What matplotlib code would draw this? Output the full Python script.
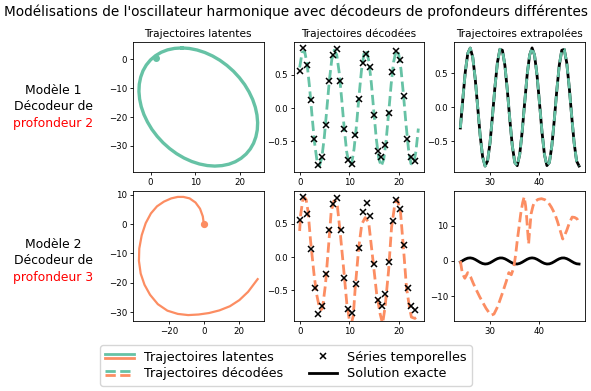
import matplotlib
matplotlib.use('Agg')
import matplotlib.pyplot as plt
from matplotlib.lines import Line2D
from matplotlib.legend_handler import HandlerBase

GREEN = '#66c2a5'
ORANGE = '#fc8d62'

# ---- data ------------------------------------------------------------------
# Model 1 latent trajectory (closed ellipse)
lat1_x = [7.0, 5.36, 3.81, 2.38, 1.10, -0.03, -0.97, -1.71, -2.23, -2.54, -2.62,
          -2.47, -2.10, -1.51, -0.70, 0.29, 1.47, 2.80, 4.27, 5.84, 7.50, 9.22,
          10.96, 12.70, 14.4, 16.04, 17.59, 19.02, 20.30, 21.43, 22.37, 23.11,
          23.63, 23.94, 24.02, 23.87, 23.5, 22.91, 22.10, 21.11, 19.93, 18.60,
          17.13, 15.56, 13.90, 12.18, 10.44, 8.70, 7.0]
lat1_y = [4.0, 3.83, 3.33, 2.48, 1.30, -0.18, -1.94, -3.94, -6.16, -8.56, -11.09,
          -13.72, -16.4, -19.08, -21.71, -24.26, -26.66, -28.9, -30.92, -32.7,
          -34.2, -35.4, -36.27, -36.81, -37.0, -36.83, -36.33, -35.48, -34.3,
          -32.82, -31.06, -29.06, -26.84, -24.44, -21.91, -19.28, -16.6, -13.92,
          -11.29, -8.74, -6.34, -4.1, -2.08, -0.3, 1.2, 2.4, 3.27, 3.81, 4.0]
lat1_start = [1.1, 0.6]

# Model 2 latent trajectory (open spiral)
lat2_x = [0.0, -0.6, -2.2, -4.8, -8.2, -11.8, -15.0, -18.8, -23.0, -27.0, -30.5,
          -33.5, -35.8, -37.2, -37.4, -36.4, -34.2, -31.0, -26.5, -21.0, -15.0,
          -9.0, -3.0, 3.0, 9.0, 15.0, 20.5, 25.5, 31.0]
lat2_y = [0.0, 2.6, 5.2, 7.3, 8.7, 9.2, 9.2, 8.7, 7.6, 6.0, 3.6, 0.3, -3.8, -8.3,
          -12.5, -16.8, -20.6, -24.0, -27.2, -29.4, -30.5, -30.9, -30.7, -30.2,
          -29.3, -27.9, -25.8, -23.0, -18.7]
lat2_start = [0.0, 0.0]

# observed time series (same for both models)
obs_t = [0, 0.75, 1.5, 2.25, 3, 3.75, 4.5, 5.25, 6, 6.75, 7.5, 8.25, 9, 9.75,
         10.5, 11.25, 12, 12.75, 13.5, 14.25, 15, 15.75, 16.5, 17.25, 18, 18.75,
         19.5, 20.25, 21, 21.75, 22.5, 23.25]
obs_y = [0.56, 0.90, 0.64, 0.12, -0.47, -0.85, -0.74, -0.26, 0.41, 0.79, 0.88,
         0.41, -0.31, -0.78, -0.84, -0.41, 0.14, 0.68, 0.81, 0.62, -0.11, -0.64,
         -0.74, -0.55, -0.08, 0.54, 0.85, 0.72, 0.18, -0.46, -0.73, -0.80]

# Model 1 decoded trajectory on the fitting window
dec1_t = [0, 0.5, 1, 1.5, 2, 2.5, 3, 3.5, 4, 4.5, 5, 5.5, 6, 6.5, 7, 7.5, 8, 8.5,
          9, 9.5, 10, 10.5, 11, 11.5, 12, 12.5, 13, 13.5, 14, 14.5, 15, 15.5, 16,
          16.5, 17, 17.5, 18, 18.5, 19, 19.5, 20, 20.5, 21, 21.5, 22, 22.5, 23,
          23.5, 24]
dec1_y = [0.606, 0.831, 0.853, 0.665, 0.315, -0.112, -0.512, -0.787, -0.869,
          -0.738, -0.427, -0.011, 0.408, 0.726, 0.867, 0.796, 0.529, 0.134,
          -0.295, -0.651, -0.849, -0.840, -0.614, -0.254, 0.177, 0.564, 0.812,
          0.862, 0.701, 0.368, -0.055, -0.463, -0.760, -0.870, -0.768, -0.477,
          -0.069, 0.354, 0.691, 0.860, 0.817, 0.574, 0.190, -0.240, -0.611,
          -0.833, -0.851, -0.654, -0.308]

# Model 2 decoded trajectory on the fitting window
dec2_t = [0.0, 0.2, 0.6, 1.0, 1.3, 1.7, 2.2, 2.9, 3.4, 3.9, 4.3, 4.6, 5.2, 5.9,
          6.35, 6.9, 7.3, 7.6, 8.2, 8.9, 9.5, 10.0, 10.4, 10.8, 11.2, 11.9, 12.5,
          13.2, 13.9, 14.7, 15.5, 16.2, 16.7, 17.2, 17.9, 18.5, 19.2, 19.7, 20.3,
          21.0, 21.5, 22.1, 22.5, 23.2, 23.9]
dec2_y = [0.39, 0.63, 0.84, 0.89, 0.86, 0.68, 0.24, -0.26, -0.55, -0.73, -0.79,
          -0.77, -0.41, 0.24, 0.68, 0.84, 0.83, 0.76, 0.34, -0.21, -0.70, -0.94,
          -1.0, -0.88, -0.45, 0.14, 0.49, 0.59, 0.52, -0.01, -0.55, -0.85, -1.0,
          -0.75, -0.21, 0.44, 0.81, 0.86, 0.68, 0.04, -0.45, -0.75, -0.90, -0.92,
          -0.88]

# exact solution on the extrapolation window
ext_t = [24, 24.5, 25, 25.5, 26, 26.5, 27, 27.5, 28, 28.5, 29, 29.5, 30, 30.5,
         31, 31.5, 32, 32.5, 33, 33.5, 34, 34.5, 35, 35.5, 36, 36.5, 37, 37.5,
         38, 38.5, 39, 39.5, 40, 40.5, 41, 41.5, 42, 42.5, 43, 43.5, 44, 44.5,
         45, 45.5, 46, 46.5, 47, 47.5, 48]
exact_y = [-0.308, 0.120, 0.519, 0.790, 0.868, 0.734, 0.420, 0.003, -0.415,
           -0.731, -0.868, -0.792, -0.525, -0.126, 0.302, 0.658, 0.850, 0.835,
           0.616, 0.246, -0.184, -0.568, -0.815, -0.862, -0.697, -0.360, 0.062,
           0.472, 0.764, 0.870, 0.763, 0.469, 0.061, -0.363, -0.697, -0.861,
           -0.815, -0.568, -0.183, 0.247, 0.616, 0.835, 0.849, 0.655, 0.301,
           -0.127, -0.525, -0.793, -0.867]
# model 1 extrapolation follows the exact solution
ext1_y = list(exact_y)

# model 2 extrapolation
ext2_t = [24.0, 24.4, 24.9, 25.5, 26.1, 26.6, 27.2, 27.9, 28.6, 29.2, 29.8, 30.3,
          30.8, 31.4, 31.9, 32.4, 32.9, 33.3, 33.8, 34.3, 34.8, 35.2, 35.5, 35.9,
          36.2, 36.6, 36.9, 37.2, 37.4, 37.8, 38.0, 38.3, 38.7, 39.0, 39.7, 40.4,
          41.1, 41.7, 42.4, 43.1, 43.6, 44.1, 44.7, 45.1, 45.5, 46.0, 46.6, 47.1,
          47.6, 48.0]
ext2_y = [0.0, -3.5, -4.9, -3.3, -4.6, -6.3, -8.1, -10.1, -11.9, -13.4, -14.6,
          -15.3, -15.0, -13.3, -11.5, -9.5, -7.4, -5.7, -3.3, -3.9, -1.9, 2.0, 5.7,
          10.0, 13.3, 16.5, 18.1, 15.5, 12.4, 4.8, 8.5, 13.3, 15.6, 16.7, 17.4,
          17.6, 17.3, 16.7, 15.2, 13.3, 11.3, 9.0, 6.2, 7.3, 8.6, 10.6, 12.4, 12.3,
          11.9, 10.5]

col_titles = ['Trajectoires latentes', 'Trajectoires décodées',
              'Trajectoires extrapolées']
row_labels = [('Modèle 1', 'Décodeur de', 'profondeur 2'),
              ('Modèle 2', 'Décodeur de', 'profondeur 3')]
legend_labels = ['Trajectoires latentes', 'Trajectoires décodées',
                 'Séries temporelles', 'Solution exacte']


# legend handler drawing two lines stacked one above the other
class StackHandler(HandlerBase):
    def create_artists(self, legend, orig_handle, xdescent, ydescent,
                       width, height, fontsize, trans):
        arts = []
        yc = (height - ydescent) / 2
        for i, h in enumerate(orig_handle):
            y = yc + (0.25 - 0.5 * i) * height
            ln = Line2D([-xdescent, width - xdescent], [y, y])
            ln.update_from(h)
            ln.set_transform(trans)
            arts.append(ln)
        return arts


plt.rcParams['axes.linewidth'] = 0.6
plt.rcParams['xtick.major.size'] = 2.2
plt.rcParams['ytick.major.size'] = 2.2
plt.rcParams['xtick.major.width'] = 0.6
plt.rcParams['ytick.major.width'] = 0.6
plt.rcParams['xtick.major.pad'] = 2.2
plt.rcParams['ytick.major.pad'] = 2.2
plt.rcParams['xtick.labelsize'] = 6.2
plt.rcParams['ytick.labelsize'] = 6.2

LW_DEC = 2.0

fig, axes = plt.subplots(2, 3, figsize=(5.91, 3.91), dpi=100)
fig.subplots_adjust(left=133/591, right=585/591, bottom=1-321/391,
                    top=1-42/391, wspace=30/130, hspace=19/130)

# row 1 ----------------------------------------------------------------
ax = axes[0, 0]
ax.plot(lat1_x, lat1_y, color=GREEN, lw=2.4, solid_joinstyle='round')
ax.plot([lat1_start[0]], [lat1_start[1]], 'o', color=GREEN, ms=4)
ax.set_xticks([0, 10, 20])

ax = axes[0, 1]
ax.plot(dec1_t, dec1_y, '--', color=GREEN, lw=LW_DEC)
ax.plot(obs_t, obs_y, 'x', color='k', ms=4, mew=1.1)
ax.set_xticks([0, 10, 20])
ax.set_yticks([-0.5, 0, 0.5])

ax = axes[0, 2]
ax.plot(ext_t, exact_y, color='k', lw=2.0)
ax.plot(ext_t, ext1_y, '--', color=GREEN, lw=LW_DEC)
ax.set_xticks([30, 40])
ax.set_yticks([-0.5, 0, 0.5])

# row 2 ----------------------------------------------------------------
ax = axes[1, 0]
ax.plot(lat2_x, lat2_y, color=ORANGE, lw=1.6, solid_joinstyle='round')
ax.plot([lat2_start[0]], [lat2_start[1]], 'o', color=ORANGE, ms=4.2)
ax.set_xticks([-20, 0, 20])

ax = axes[1, 1]
ax.plot(dec2_t, dec2_y, '--', color=ORANGE, lw=LW_DEC)
ax.plot(obs_t, obs_y, 'x', color='k', ms=4, mew=1.1)
ax.set_ylim(axes[0, 1].get_ylim())
ax.set_xticks([0, 10, 20])
ax.set_yticks([-0.5, 0, 0.5])

ax = axes[1, 2]
ax.plot(ext_t, exact_y, color='k', lw=2.0)
ax.plot(ext2_t, ext2_y, '--', color=ORANGE, lw=LW_DEC)
ax.set_xticks([30, 40])
ax.set_yticks([-10, 0, 10])

for i, t in enumerate(col_titles):
    axes[0, i].set_title(t, fontsize=7.6, pad=3.5)

# row labels, last line in red
row_y = [(90, 106.5, 123), (244, 260.5, 277)]
for lab, ys in zip(row_labels, row_y):
    for j, (txt, y) in enumerate(zip(lab, ys)):
        fig.text(53/591, 1 - y/391, txt, ha='center', va='center',
                 fontsize=8.9, color='red' if j == 2 else 'black')

fig.suptitle("Modélisations de l'oscillateur harmonique avec décodeurs de "
             "profondeurs différentes", fontsize=9.8, y=1 - 12/391, va='center')

handles = [
    (Line2D([], [], color=GREEN, lw=2), Line2D([], [], color=ORANGE, lw=2)),
    (Line2D([], [], color=GREEN, lw=2, ls='--'),
     Line2D([], [], color=ORANGE, lw=2, ls='--')),
    Line2D([], [], ls='none', marker='x', color='k', ms=4, mew=1.1),
    Line2D([], [], color='k', lw=2),
]
fig.legend(handles, legend_labels, ncol=2, loc='center',
           bbox_to_anchor=(286/591, 1 - 365.5/391), fontsize=9.2,
           handler_map={tuple: StackHandler()}, handlelength=2.2,
           borderpad=0.4, labelspacing=0.3, handletextpad=0.8)

fig.savefig('out.png', dpi=100)
